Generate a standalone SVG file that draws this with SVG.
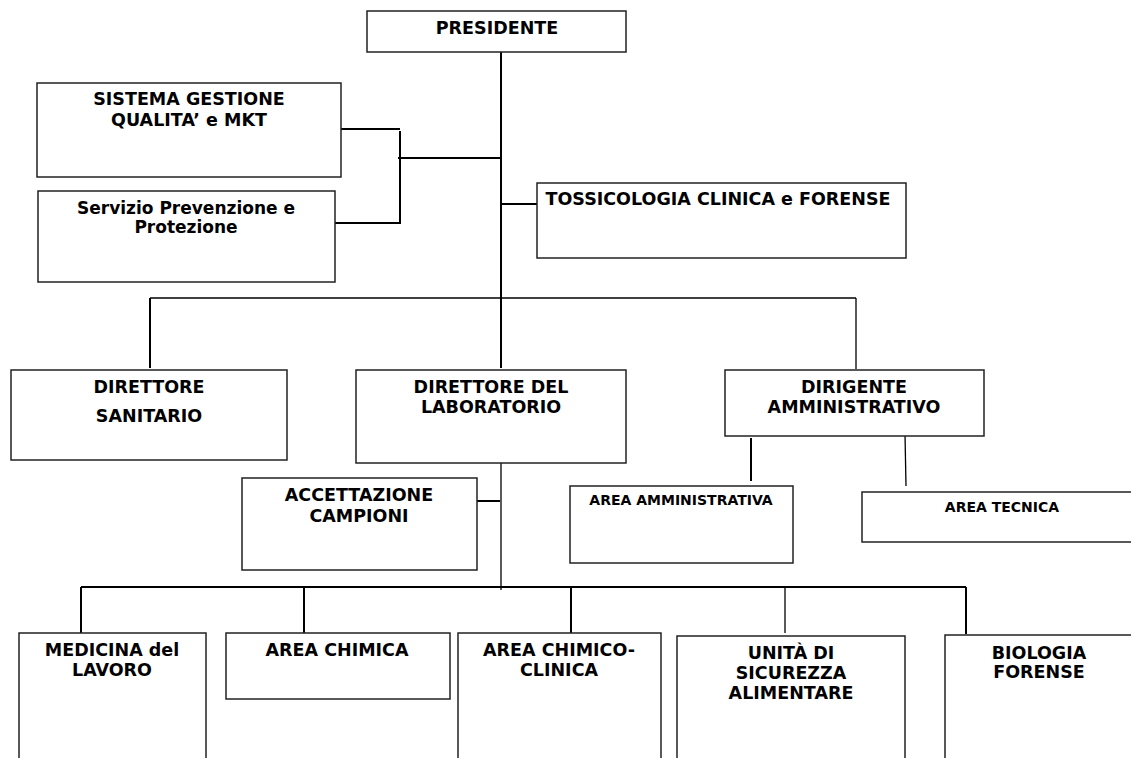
<svg xmlns="http://www.w3.org/2000/svg" width="1131" height="758" viewBox="0 0 1131 758">
<style>
.box{fill:#fff;stroke:#222;stroke-width:1.5}
.t{font-family:"DejaVu Sans",Verdana,sans-serif;font-weight:bold;font-size:17.5px;fill:#000;text-anchor:middle}
.s{font-size:14px}
.m{font-size:17px}
.c{stroke:#000;stroke-width:2;fill:none}
.c1{stroke:#000;stroke-width:1.3;fill:none}
</style>
<rect width="1131" height="758" fill="#fff"/>
<g id="connectors">
<path class="c" d="M501 52V368"/>
<path class="c" d="M341 129H400M400 131V224M335 223H400M398 158H501"/>
<path class="c" d="M501 204H537"/>
<path class="c1" d="M150 298H856"/>
<path class="c" d="M150 298V368"/>
<path class="c1" d="M856 298V369"/>
<path class="c" d="M751 438V481"/>
<path class="c1" d="M905 434L906 486"/>
<path class="c1" d="M501 463V590"/>
<path class="c" d="M474 501H500"/>
<path class="c" d="M81 587H966"/>
<path class="c" d="M81 587V633M304 587V633M571 587V633M966 587V634"/>
<path class="c1" d="M785 587V633"/>
</g>
<g id="presidente"><rect class="box" x="367" y="11" width="259" height="41"/><text class="t" x="497" y="34">PRESIDENTE</text></g>
<g id="sistema"><rect class="box" x="37" y="83" width="304" height="94"/><text class="t" x="189" y="105">SISTEMA GESTIONE</text><text class="t" x="189" y="126">QUALITA’ e MKT</text></g>
<g id="servizio"><rect class="box" x="38" y="191" width="297" height="91"/><text class="t m" x="186" y="214">Servizio Prevenzione e</text><text class="t m" x="186" y="233">Protezione</text></g>
<g id="tossicologia"><rect class="box" x="537" y="183" width="369" height="75"/><text class="t" x="718" y="205">TOSSICOLOGIA CLINICA e FORENSE</text></g>
<g id="dir-sanitario"><rect class="box" x="11" y="370" width="276" height="90"/><text class="t" x="149" y="393">DIRETTORE</text><text class="t" x="149" y="422">SANITARIO</text></g>
<g id="dir-lab"><rect class="box" x="356" y="370" width="270" height="93"/><text class="t" x="491" y="393">DIRETTORE DEL</text><text class="t" x="491" y="413">LABORATORIO</text></g>
<g id="dirigente"><rect class="box" x="725" y="370" width="259" height="66"/><text class="t" x="854" y="393">DIRIGENTE</text><text class="t" x="854" y="413">AMMINISTRATIVO</text></g>
<g id="area-amm"><rect class="box" x="570" y="486" width="223" height="77"/><text class="t s" x="681" y="505">AREA AMMINISTRATIVA</text></g>
<g id="area-tecnica"><rect class="box" x="862" y="492" width="290" height="50"/><text class="t s" x="1002" y="512">AREA TECNICA</text></g>
<g id="accettazione"><rect class="box" x="242" y="478" width="235" height="92"/><text class="t" x="359" y="501">ACCETTAZIONE</text><text class="t" x="359" y="522">CAMPIONI</text></g>
<g id="medicina"><rect class="box" x="19" y="633" width="187" height="140"/><text class="t" x="112" y="656">MEDICINA del</text><text class="t" x="112" y="676">LAVORO</text></g>
<g id="area-chimica"><rect class="box" x="226" y="633" width="224" height="66"/><text class="t" x="337" y="656">AREA CHIMICA</text></g>
<g id="area-chimico-clinica"><rect class="box" x="458" y="633" width="203" height="140"/><text class="t" x="559" y="656">AREA CHIMICO-</text><text class="t" x="559" y="676">CLINICA</text></g>
<g id="unita"><rect class="box" x="677" y="636" width="228" height="140"/><text class="t" x="791" y="659">UNITÀ DI</text><text class="t" x="791" y="679">SICUREZZA</text><text class="t" x="791" y="699">ALIMENTARE</text></g>
<g id="biologia"><rect class="box" x="945" y="635" width="200" height="140"/><text class="t" x="1039" y="659">BIOLOGIA</text><text class="t" x="1039" y="678">FORENSE</text></g>
</svg>
